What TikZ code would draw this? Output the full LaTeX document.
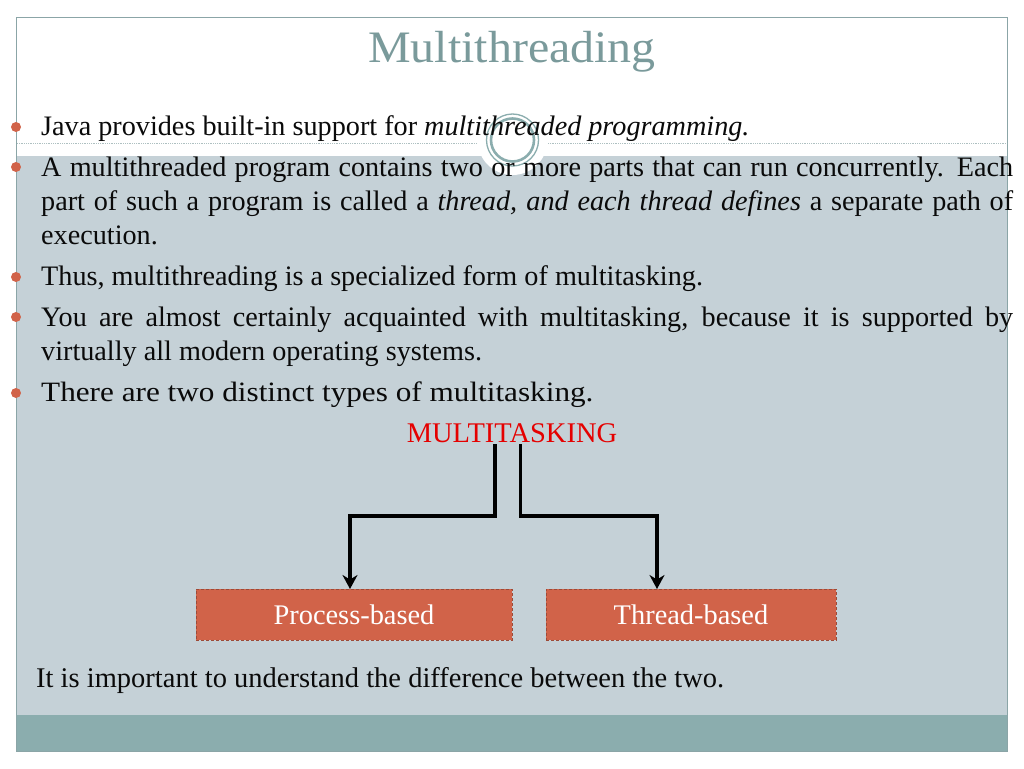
\documentclass[tikz,border=0pt]{standalone}
\usepackage{fontspec}
\setmainfont{Liberation Serif}
\newfontfamily\widefont[FakeStretch=1.115]{Liberation Serif}
\newfontfamily\titlefont[FakeStretch=1.065]{Liberation Serif}
\usetikzlibrary{arrows.meta}
\definecolor{band}{HTML}{C5D1D7}
\definecolor{foot}{HTML}{8BADAE}
\definecolor{frameC}{HTML}{8BA5A7}
\definecolor{titleC}{HTML}{7A9A9B}
\definecolor{accent}{HTML}{D16349}
\definecolor{ink}{HTML}{0A0A0A}
\newcommand{\fs}[1]{\fontsize{#1}{#1}\selectfont}
\newcommand{\just}[1]{\makebox[972pt][s]{#1}}
\tikzset{
  x=1pt,y=-1pt,
  line/.style={anchor=base west,inner sep=0pt,text=ink,font=\fs{28.2}},
  alt/.style={anchor=base west,inner sep=0pt,text=ink,font=\widefont\fs{28}},
  plainalt/.style={anchor=base west,inner sep=0pt,text=ink,font=\fs{28.5}},
  bullet/.style={circle,fill=accent,draw=none,minimum size=10pt,inner sep=0pt},
  kind/.style={draw=accent!75!black,densely dashed,line width=.6pt,fill=accent,text=white,anchor=north west,inner sep=0pt},
  kindtext/.style={anchor=base,inner sep=0pt,text=white,font=\fs{28.4}},
  conn/.style={line width=3.4pt,draw=black,-{Stealth[length=14pt,width=15pt]}}
}
\begin{document}
\begin{tikzpicture}
\useasboundingbox (0,0) rectangle (1024,768);
\fill[white] (0,0) rectangle (1024,768);
\fill[band] (17,156) rectangle (1007,715);
\fill[foot] (17,715) rectangle (1007,751);
\draw[frameC,line width=1pt] (16.5,17.5) rectangle (1007,751);
\draw[frameC!70,densely dotted,line width=.8pt] (17,143) -- (1007,143);
\fill[white] (512.5,140) circle (35);
\draw[foot,line width=1.3pt] (512.5,140) circle (26);
\draw[foot,line width=2.6pt] (512.5,140) circle (21.5);

\node[anchor=base,inner sep=0pt,text=titleC,font=\titlefont\fs{45}] (title) at (512,63) {Multithreading};

\foreach \n/\y in {b1/127,b2/167,b3/277,b4/317,b5/393}
  \node[bullet] (\n) at (16,\y) {};

\node[line] (l1) at (41,135) {Java provides built-in support for \textit{multithreaded programming.}};
\node[line] (l2) at (41,176) {\just{A multithreaded program contains two or more parts that can run concurrently. Each}};
\node[line] (l3) at (41,210) {\just{part of such a program is called a \textit{thread, and each thread defines} a separate path of}};
\node[line] (l4) at (41,244) {execution.};
\node[line] (l5) at (41,285) {Thus, multithreading is a specialized form of multitasking.};
\node[line] (l6) at (41,326) {\just{You are almost certainly acquainted with multitasking, because it is supported by}};
\node[line] (l7) at (41,360) {virtually all modern operating systems.};
\node[alt] (l8) at (41,401) {There are two distinct types of multitasking.};

\node[anchor=base,inner sep=0pt,text=red!90!black,font=\fs{28.5}] (mt) at (512,442) {MULTITASKING};

\node[kind,minimum width=316pt,minimum height=51pt] (pb) at (196,589) {};
\node[kind,minimum width=290pt,minimum height=51pt] (tb) at (546,589) {};
\node[kindtext] (pbt) at (354,624) {Process-based};
\node[kindtext] (tbt) at (691,624) {Thread-based};

\coordinate (lt) at ([xshift=-17pt]mt.base);
\coordinate (rt) at ([xshift=8.5pt]mt.base);
\draw[conn] ([yshift=-2pt]lt) |- (350,516) -- (350,516 |- pb.north);
\draw[conn] ([yshift=-2pt]rt) |- (657,516) -- (657,516 |- tb.north);

\node[plainalt] (l9) at (36,687) {It is important to understand the difference between the two.};
\end{tikzpicture}
\end{document}
